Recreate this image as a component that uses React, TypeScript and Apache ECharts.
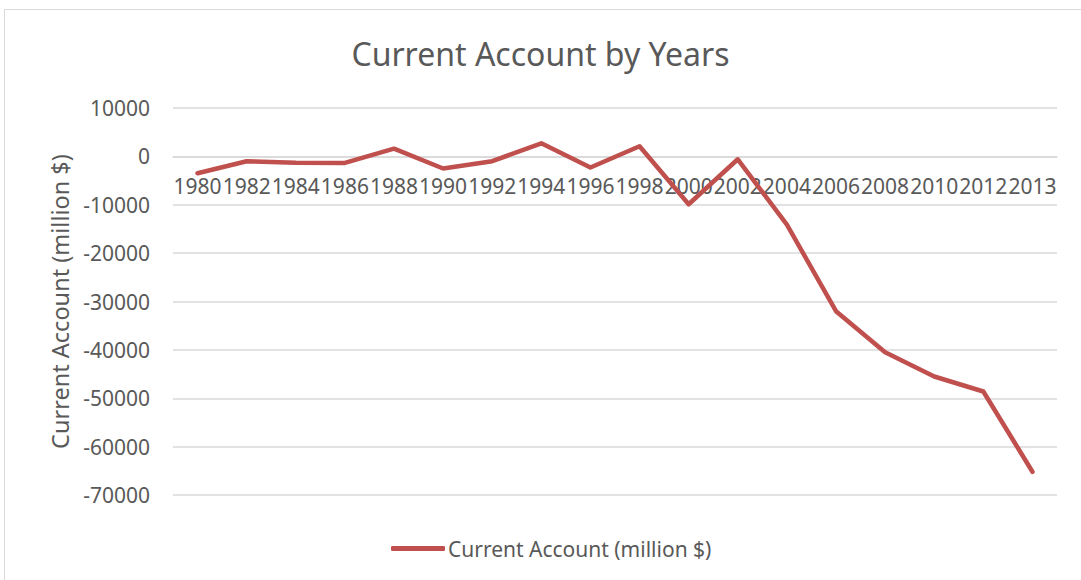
import React, { useEffect, useRef } from "react";
import * as echarts from "echarts";

const years = ["1980","1982","1984","1986","1988","1990","1992","1994","1996","1998","2000","2002","2004","2006","2008","2010","2012","2013"];
const currentAccount = [-3500,-1000,-1300,-1350,1600,-2500,-1000,2700,-2300,2100,-9900,-600,-14100,-32000,-40500,-45500,-48600,-65200];
const yMin = -70000;
const yMax = 10000;
const yStep = 10000;
const seriesName = "Current Account (million $)";
const titleText = "Current Account by Years";

export default function App() {
  const ref = useRef<HTMLDivElement>(null);
  useEffect(() => {
    document.body.style.margin = "0";
    const chart = echarts.init(ref.current!, null, { renderer: "svg" });
    const font = "'Noto Sans', sans-serif";
    const gridTop = 108;
    const gridBottom = 85;
    const gridHeight = 580 - gridTop - gridBottom;
    const zeroOffset = -gridHeight * (0 - yMin) / (yMax - yMin);
    chart.setOption({
      animation: false,
      backgroundColor: "#fff",
      textStyle: { fontFamily: font },
      graphic: [
        { type: "rect", shape: { x: 4.5, y: 9.5, width: 1100, height: 600 }, style: { fill: "none", stroke: "#d9d9d9", lineWidth: 1 }, silent: true, z: -10 },
      ],
      title: {
        text: titleText,
        left: "center",
        top: 32,
        textStyle: { fontFamily: font, fontSize: 32, fontWeight: "normal", color: "#595959" },
      },
      legend: {
        bottom: 16,
        left: 386,
        itemWidth: 54,
        itemHeight: 5,
        itemGap: 4,
        icon: "roundRect",
        data: [{ name: seriesName, icon: "roundRect" }],
        textStyle: { fontFamily: font, fontSize: 21, color: "#595959", padding: [0, 0, 0, -2] },
      },
      grid: { left: 173, right: 24, top: gridTop, bottom: gridBottom },
      xAxis: {
        type: "category",
        data: years,
        boundaryGap: true,
        offset: zeroOffset,
        axisLine: { onZero: false, lineStyle: { color: "#d9d9d9", width: 1.5 } },
        axisTick: { show: false },
        axisLabel: { interval: 0, color: "#595959", fontFamily: font, fontSize: 21, margin: 19, hideOverlap: false },
      },
      yAxis: {
        type: "value",
        min: yMin,
        max: yMax,
        interval: yStep,
        name: seriesName,
        nameLocation: "middle",
        nameGap: 96,
        nameTextStyle: { fontFamily: font, fontSize: 23.5, color: "#595959" },
        axisLine: { show: false, onZero: false },
        axisTick: { show: false },
        axisLabel: { color: "#595959", fontFamily: font, fontSize: 21, margin: 23, formatter: (v: number) => String(v) },
        splitLine: { lineStyle: { color: "#d9d9d9", width: 1.5 } },
      },
      series: [
        {
          name: seriesName,
          type: "line",
          data: currentAccount,
          symbol: "none",
          color: "#C0504D",
          lineStyle: { color: "#C0504D", width: 4.5, cap: "round", join: "round" },
        },
      ],
    });
    return () => chart.dispose();
  }, []);
  return <div ref={ref} style={{ width: 1081, height: 580 }} />;
}
